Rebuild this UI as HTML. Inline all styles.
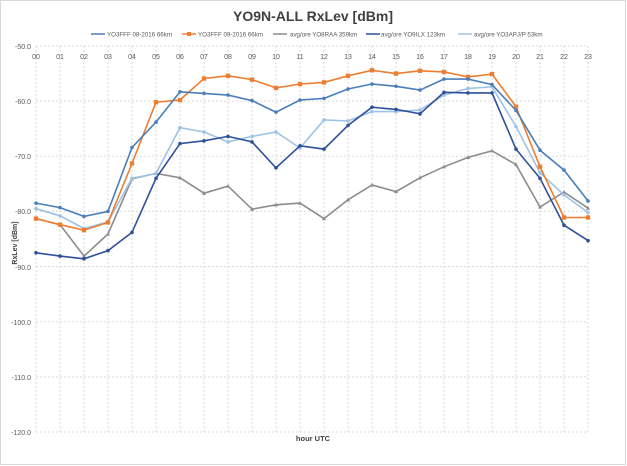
<!DOCTYPE html>
<html><head><meta charset="utf-8"><style>
html,body{margin:0;padding:0;background:#fff;}
svg{display:block;font-family:"Liberation Sans",sans-serif;}
</style></head><body>
<svg id="s" width="627" height="466" viewBox="0 0 627 466" xmlns="http://www.w3.org/2000/svg">
<rect x="0.5" y="0.5" width="625" height="464" fill="#fff" stroke="#d9d9d9"/>
<text x="313" y="21" text-anchor="middle" font-size="14" font-weight="bold" fill="#404040">YO9N-ALL RxLev [dBm]</text>
<g font-size="6.2" fill="#595959">
<line x1="91" y1="34" x2="105" y2="34" stroke="#4a7ebb" stroke-width="1.5"/><text x="107" y="36.3">YO3FFF 08-2016 66km</text>
<line x1="182" y1="34" x2="196" y2="34" stroke="#ed7d31" stroke-width="1.5"/><rect x="187" y="32" width="4" height="4" fill="#ed7d31"/><text x="198" y="36.3">YO3FFF 09-2016 66km</text>
<line x1="273" y1="34" x2="287" y2="34" stroke="#8c8c8c" stroke-width="1.5"/><text x="290" y="36.3">avg/ore YO8RAA 359km</text>
<line x1="366" y1="34" x2="380" y2="34" stroke="#2e4f9a" stroke-width="1.5"/><text x="381" y="36.3">avg/ore YO9ILX 123km</text>
<line x1="458" y1="34" x2="472" y2="34" stroke="#9dc3e6" stroke-width="1.5"/><text x="474" y="36.3">avg/ore YO3APJ/P 53km</text>
</g>
<g id="grid" stroke="#d9d9d9" stroke-width="1" stroke-dasharray="2,2"></g>
<g font-size="7" fill="#595959" text-anchor="end">
<text x="31" y="49">-50.0</text><text x="31" y="104">-60.0</text><text x="31" y="159">-70.0</text><text x="31" y="214">-80.0</text><text x="31" y="270">-90.0</text><text x="31" y="325">-100.0</text><text x="31" y="380">-110.0</text><text x="31" y="435">-120.0</text>
</g>
<g font-size="7" fill="#595959" text-anchor="middle">
<text x="36" y="59">00</text><text x="60" y="59">01</text><text x="84" y="59">02</text><text x="108" y="59">03</text><text x="132" y="59">04</text><text x="156" y="59">05</text><text x="180" y="59">06</text><text x="204" y="59">07</text><text x="228" y="59">08</text><text x="252" y="59">09</text><text x="276" y="59">10</text><text x="300" y="59">11</text><text x="324" y="59">12</text><text x="348" y="59">13</text><text x="372" y="59">14</text><text x="396" y="59">15</text><text x="420" y="59">16</text><text x="444" y="59">17</text><text x="468" y="59">18</text><text x="492" y="59">19</text><text x="516" y="59">20</text><text x="540" y="59">21</text><text x="564" y="59">22</text><text x="588" y="59">23</text>
</g>
<text x="313" y="441" text-anchor="middle" font-size="7.5" font-weight="bold" fill="#404040">hour UTC</text>
<text transform="translate(17,243) rotate(-90)" text-anchor="middle" font-size="7" font-weight="bold" fill="#404040">RxLev [dBm]</text>
<g id="series"></g>
</svg>
<script>
var ns="http://www.w3.org/2000/svg";
function X(h){return 36+24*h;}function Y(v){return 46+(-50-v)*5.514;}
var g=document.getElementById("grid");
for(var v=-50;v>=-120;v-=10){var l=document.createElementNS(ns,"line");l.setAttribute("x1",36);l.setAttribute("x2",588);l.setAttribute("y1",Y(v));l.setAttribute("y2",Y(v));g.appendChild(l);}
for(var h=0;h<24;h++){var l=document.createElementNS(ns,"line");l.setAttribute("x1",X(h));l.setAttribute("x2",X(h));l.setAttribute("y1",46);l.setAttribute("y2",432);g.appendChild(l);}
var S=[
["#8c8c8c","tri",[-81.3,-82.4,-88.1,-84.1,-74.1,-73.1,-73.9,-76.7,-75.4,-79.6,-78.8,-78.5,-81.3,-77.9,-75.2,-76.4,-73.9,-71.9,-70.2,-69,-71.5,-79.2,-76.5,-79.4]],
["#9dc3e6","x",[-79.5,-80.8,-83.1,-81.9,-74,-73.1,-64.8,-65.6,-67.4,-66.4,-65.6,-68.5,-63.4,-63.6,-61.9,-61.9,-61.6,-58.9,-57.7,-57.4,-64.6,-73,-77,-80.2]],
["#2e4f9a","x",[-87.5,-88.1,-88.6,-87.1,-83.8,-74,-67.7,-67.2,-66.4,-67.4,-72.1,-68.1,-68.7,-64.4,-61.1,-61.5,-62.3,-58.4,-58.5,-58.5,-68.7,-74,-82.5,-85.3]],
["#ed7d31","sq",[-81.3,-82.4,-83.4,-82,-71.3,-60.2,-59.8,-55.9,-55.4,-56.1,-57.6,-56.9,-56.6,-55.4,-54.4,-55,-54.5,-54.7,-55.6,-55.1,-61,-71.9,-81.1,-81.1]],
["#4a7ebb","d",[-78.5,-79.3,-80.9,-80,-68.4,-63.8,-58.3,-58.6,-58.9,-59.9,-62,-59.8,-59.5,-57.8,-56.9,-57.3,-58,-56,-56,-57,-61.7,-68.9,-72.5,-78.1]]];
var sg=document.getElementById("series");
S.forEach(function(s){var p=document.createElementNS(ns,"polyline");
p.setAttribute("points",s[2].map(function(v,i){return X(i)+","+Y(v).toFixed(1);}).join(" "));
p.setAttribute("fill","none");p.setAttribute("stroke",s[0]);p.setAttribute("stroke-width","1.6");sg.appendChild(p);
s[2].forEach(function(v,i){var m;var x=X(i),y=Y(v);
if(s[1]=="sq"){m=document.createElementNS(ns,"rect");m.setAttribute("x",x-2.2);m.setAttribute("y",y-2.2);m.setAttribute("width",4.4);m.setAttribute("height",4.4);}
else if(s[1]=="tri"){m=document.createElementNS(ns,"polygon");m.setAttribute("points",x+","+(y-2.2)+" "+(x-2)+","+(y+1.6)+" "+(x+2)+","+(y+1.6));}
else {m=document.createElementNS(ns,"circle");m.setAttribute("cx",x);m.setAttribute("cy",y);m.setAttribute("r",1.8);}
m.setAttribute("fill",s[0]);sg.appendChild(m);});});
</script>
</body></html>
